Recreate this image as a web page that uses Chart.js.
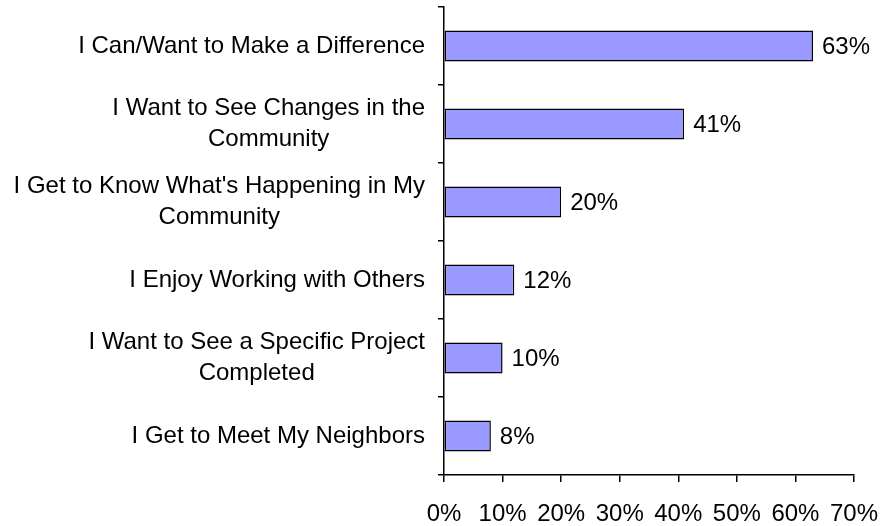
<!DOCTYPE html>
<html>
<head>
<meta charset="utf-8">
<script src="https://cdn.jsdelivr.net/npm/chart.js@4"></script>
<style>
  body { margin: 0; background: #fff; }
  #wrap { width: 881px; height: 526px; position: relative; }
</style>
</head>
<body>
<div id="wrap"><canvas id="reasonsChart"></canvas></div>
<script>
// reasons for getting involved, top to bottom
const categories = [
    ['I Can/Want to Make a Difference'],
    ['I Want to See Changes in the', 'Community'],
    ["I Get to Know What's Happening in My", 'Community'],
    ['I Enjoy Working with Others'],
    ['I Want to See a Specific Project', 'Completed'],
    ['I Get to Meet My Neighbors']
];
const percentValues = [63, 41, 20, 12, 10, 8];
const xTicks = [0, 10, 20, 30, 40, 50, 60, 70];

const fontFamily = '"Liberation Sans", Arial, sans-serif';
const fontSize = 24;

// category labels: block right-aligned to the axis, lines centred inside the block
const categoryLabels = {
    id: 'categoryLabels',
    afterDraw(chart) {
        const ctx = chart.ctx;
        const yScale = chart.scales.y;
        const rightEdge = chart.chartArea.left - 19;
        const lineH = 31;
        ctx.save();
        ctx.font = fontSize + 'px ' + fontFamily;
        ctx.fillStyle = '#000';
        ctx.textBaseline = 'middle';
        ctx.textAlign = 'center';
        categories.forEach((lines, i) => {
            const cy = yScale.getPixelForValue(i);
            const maxW = Math.max(...lines.map(l => ctx.measureText(l).width));
            const cx = rightEdge - maxW / 2;
            const startY = cy - (lines.length - 1) * lineH / 2;
            lines.forEach((l, j) => ctx.fillText(l, cx, startY + j * lineH));
        });
        ctx.restore();
    }
};

// percentage labels at the end of each bar
const valueLabels = {
    id: 'valueLabels',
    afterDatasetsDraw(chart) {
        const ctx = chart.ctx;
        const meta = chart.getDatasetMeta(0);
        ctx.save();
        ctx.font = fontSize + 'px ' + fontFamily;
        ctx.fillStyle = '#000';
        ctx.textBaseline = 'middle';
        ctx.textAlign = 'left';
        meta.data.forEach((bar, i) => {
            ctx.fillText(percentValues[i] + '%', bar.x + 9, bar.y + 1);
        });
        ctx.restore();
    }
};

new Chart(document.getElementById('reasonsChart'), {
    type: 'bar',
    data: {
        labels: categories,
        datasets: [{
            data: percentValues,
            backgroundColor: '#9999ff',
            borderColor: '#000',
            borderWidth: 1.5,
            borderSkipped: false,
            barPercentage: 0.4,
            categoryPercentage: 1
        }]
    },
    options: {
        indexAxis: 'y',
        responsive: true,
        maintainAspectRatio: false,
        animation: false,
        layout: { padding: { top: 7, right: 27, left: 0, bottom: 0 } },
        plugins: {
            legend: { display: false },
            tooltip: { enabled: false }
        },
        scales: {
            x: {
                type: 'linear',
                min: xTicks[0],
                max: xTicks[xTicks.length - 1],
                afterBuildTicks: scale => { scale.ticks = xTicks.map(v => ({ value: v })); },
                afterFit: scale => {
                    scale.height = 51;
                    scale.paddingLeft = 0;
                    scale.paddingRight = 0;
                },
                border: { color: '#000', width: 1.5 },
                grid: { drawOnChartArea: false, color: '#000', tickLength: 7, lineWidth: 1.5 },
                ticks: {
                    color: '#000',
                    font: { family: fontFamily, size: fontSize },
                    padding: 18,
                    maxRotation: 0,
                    callback: v => v + '%'
                }
            },
            y: {
                type: 'category',
                afterFit: scale => { scale.width = 444; },
                border: { color: '#000', width: 1.5 },
                grid: { offset: true, drawOnChartArea: false, color: '#000', tickLength: 6, lineWidth: 1.5 },
                ticks: { display: false }
            }
        }
    },
    plugins: [categoryLabels, valueLabels]
});
</script>
</body>
</html>
